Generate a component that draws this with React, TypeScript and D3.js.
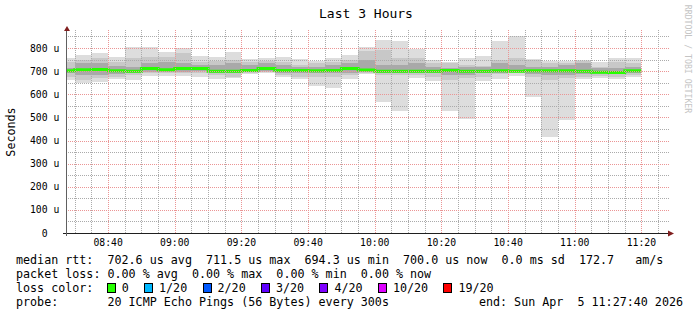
import React from 'react';
import * as d3 from 'd3';

const W = 697;
const H = 315;

const startTime = new Date(2026, 3, 5, 8, 27, 40);
const endTime = new Date(2026, 3, 5, 11, 27, 40);
const firstBarEnd = new Date(2026, 3, 5, 8, 30, 0);
const stepMinutes = 5;

// RTT values in microseconds, one per 5-minute step
const maxRtt = [755, 770, 780, 760, 803, 803, 781, 799, 765, 760, 783, 754, 758, 760, 752, 745, 755, 770, 806, 835, 830, 797, 748, 739, 757, 765, 830, 853, 752, 744, 744, 748, 738, 757, 757];
const hi2 = [741, 748, 755, 741, 755, 762, 762, 777, 741, 745, 748, 741, 745, 741, 726, 733, 741, 750, 789, 791, 755, 755, 733, 733, 726, 722, 748, 755, 748, 733, 733, 745, 719, 738, 733];
const hi3 = [712, 733, 736, 722, 719, 736, 741, 733, 726, 726, 733, 726, 733, 726, 719, 719, 726, 733, 748, 726, 726, 733, 719, 712, 719, 719, 733, 726, 719, 719, 726, 733, 712, 712, 719];
const medianRtt = [702, 706, 707, 702, 700, 711, 706, 711, 711, 700, 700, 703, 711, 703, 703, 702, 703, 711, 705, 699, 700, 700, 699, 703, 700, 700, 702, 700, 702, 702, 702, 700, 695, 694, 702];
const lo3 = [690, 683, 683, 688, 690, 697, 697, 697, 700, 690, 690, 698, 700, 690, 690, 690, 693, 690, 698, 690, 690, 693, 690, 683, 683, 690, 693, 697, 688, 683, 683, 688, 688, 686, 690];
const lo2 = [676, 662, 669, 676, 683, 690, 690, 690, 690, 683, 676, 693, 697, 683, 676, 676, 676, 683, 690, 683, 683, 683, 676, 662, 669, 676, 686, 690, 676, 662, 669, 676, 680, 676, 683];
const minRtt = [662, 647, 654, 664, 662, 680, 679, 679, 676, 664, 669, 686, 693, 676, 664, 636, 628, 664, 686, 568, 529, 672, 659, 529, 492, 659, 666, 680, 590, 416, 489, 664, 672, 666, 673];

const yMajorTicks = [0, 100, 200, 300, 400, 500, 600, 700, 800];
const yMinorTicks = [50, 150, 250, 350, 450, 550, 650, 750, 850];

const lossLabels = ['0', '1/20', '2/20', '3/20', '4/20', '10/20', '19/20'];
const lossColors = ['#26ff00', '#00b8ff', '#0059ff', '#5e00ff', '#7e00ff', '#dd00ff', '#ff0000'];

const title = 'Last 3 Hours';
const yTitle = 'Seconds';
const legendRtt = 'median rtt:  702.6 us avg  711.5 us max  694.3 us min  700.0 us now  0.0 ms sd  172.7   am/s';
const legendLoss = 'packet loss: 0.00 % avg  0.00 % max  0.00 % min  0.00 % now';
const legendColorLabel = 'loss color:';
const legendProbe = 'probe:       20 ICMP Echo Pings (56 Bytes) every 300s';
const legendEnd = 'end: Sun Apr  5 11:27:40 2026';
const watermark = 'RRDTOOL / TOBI OETIKER';

const MONO = '"DejaVu Sans Mono", monospace';

export default function App() {
  const x = d3.scaleTime().domain([startTime, endTime]).range([67, 667]);
  const y = d3.scaleLinear().domain([0, 880]).range([233, 29.5]);

  const barEnds = medianRtt.map((_, i) => d3.timeMinute.offset(firstBarEnd, stepMinutes * i));
  const barStarts = barEnds.map((e) => d3.timeMinute.offset(e, -stepMinutes));

  const gridTimes = d3
    .range(0, 40)
    .map((i) => d3.timeMinute.offset(firstBarEnd, stepMinutes * i))
    .filter((t) => t < endTime);
  const majorX = gridTimes.filter((t) => t.getMinutes() % 20 === 0);
  const minorX = gridTimes.filter((t) => t.getMinutes() % 20 !== 0);
  const fmt = d3.timeFormat('%H:%M');

  const bands: [number[], number[], string][] = [
    [minRtt, maxRtt, '#dddddd'],
    [lo2, hi2, '#c8c8c8'],
    [lo3, hi3, '#a9a9a9'],
  ];

  const medPts: [Date, number][] = medianRtt.map((m, i) => [barStarts[i], m]);
  medPts.push([barEnds[barEnds.length - 1], medianRtt[medianRtt.length - 1]]);
  const medLine = d3
    .line<[Date, number]>()
    .x((d) => x(d[0]))
    .y((d) => y(d[1]))
    .curve(d3.curveStepAfter);

  const px = (v: number) => Math.round(v);
  const plotL = 67;
  const plotR = 667;
  const plotT = 29.5;
  const plotB = 233;
  const gridTop = 30;

  const cw = 7.04;
  const legendX = 16;
  let cursor = legendX + 13 * cw - 0.8;
  const lossItems = lossLabels.map((lab, i) => {
    const bx = cursor;
    const tx = bx + 15;
    cursor = tx + lab.length * cw + 15.3;
    return { lab, color: lossColors[i], bx, tx };
  });

  const minorCol = '#ababab';
  const majorCol = '#eb9595';

  const vDots = (xx: number, col: string, k: string) => {
    const dots = d3.range(gridTop, plotB, 2);
    return (
      <g key={k} fill={col}>
        {dots.map((yy) => (
          <rect key={yy} x={xx} y={yy} width={1} height={1} />
        ))}
      </g>
    );
  };

  return (
    <svg width={W} height={H} viewBox={`0 0 ${W} ${H}`} style={{ display: 'block', background: '#ffffff' }}>
      <style>{`body{margin:0}`}</style>
      <defs>
        <clipPath id="plotClip">
          <rect x={plotL} y={plotT} width={plotR - plotL} height={plotB - plotT} />
        </clipPath>
        <pattern id="hMinorP" x={0} y={0} width={2} height={1} patternUnits="userSpaceOnUse">
          <rect x={0} y={0} width={1} height={1} fill={minorCol} />
        </pattern>
        <pattern id="hMajorP" x={0} y={0} width={2} height={1} patternUnits="userSpaceOnUse">
          <rect x={0} y={0} width={1} height={1} fill={majorCol} />
        </pattern>
      </defs>
      <rect x={0} y={0} width={W} height={H} fill="#ffffff" />

      {/* smoke */}
      <g clipPath="url(#plotClip)" shapeRendering="crispEdges">
        {bands.map(([lo, hi, col], b) => (
          <g key={b}>
            {lo.map((l, i) => (
              <rect
                key={i}
                x={x(barStarts[i])}
                width={x(barEnds[i]) - x(barStarts[i])}
                y={y(hi[i])}
                height={y(l) - y(hi[i])}
                fill={col}
              />
            ))}
          </g>
        ))}
      </g>
      <g clipPath="url(#plotClip)">
        <path d={medLine(medPts) || ''} fill="none" stroke="#26ff00" strokeWidth={3} />
      </g>

      {/* grid (dotted) */}
      <g shapeRendering="crispEdges">
        {yMinorTicks.map((v) => (
          <rect key={'ym' + v} x={plotL} y={px(y(v))} width={plotR + 2 - plotL} height={1} fill="url(#hMinorP)" />
        ))}
        {minorX.map((t, i) => vDots(px(x(t)), minorCol, 'vm' + i))}
        {yMajorTicks.filter((v) => v > 0).map((v) => (
          <rect key={'yM' + v} x={plotL} y={px(y(v))} width={plotR + 2 - plotL} height={1} fill="url(#hMajorP)" />
        ))}
        {majorX.map((t, i) => vDots(px(x(t)), majorCol, 'vM' + i))}
      </g>

      {/* axes */}
      <line x1={63} x2={669} y1={233.5} y2={233.5} stroke="#1f1f1f" strokeWidth={1} shapeRendering="crispEdges" />
      <line x1={66.5} x2={66.5} y1={28} y2={236} stroke="#606060" strokeWidth={1} shapeRendering="crispEdges" />
      <path d="M64,31L70,31L67,26Z" fill="#801f1f" />
      <path d="M668,230.5L668,236.5L674,233.5Z" fill="#801f1f" />

      {/* tick labels */}
      <g fontFamily={MONO} fontSize={9.75} fill="#000">
        {yMajorTicks.map((v) => (
          <text key={v} x={v === 0 ? 59.3 - 2 * 5.87 : 59.3} y={y(v) + 3.6} textAnchor="end">
            {v === 0 ? '0' : `${v} u`}
          </text>
        ))}
        {majorX.map((t) => (
          <text key={+t} x={x(t)} y={246} textAnchor="middle">
            {fmt(t)}
          </text>
        ))}
      </g>

      {/* titles */}
      <text x={366} y={18} textAnchor="middle" fontFamily={MONO} fontSize={13} fill="#000">
        {title}
      </text>
      <text transform={`translate(15,132) rotate(-90)`} textAnchor="middle" fontFamily={MONO} fontSize={11.7} fill="#000">
        {yTitle}
      </text>
      <text transform={`translate(685,59) rotate(90)`} textAnchor="middle" fontFamily={MONO} fontSize={8.2} fill="#c4c4c4">
        {watermark}
      </text>

      {/* legend */}
      <g fontFamily={MONO} fontSize={11.7} fill="#000">
        <text x={legendX} y={264} xmlSpace="preserve" style={{ whiteSpace: 'pre' }}>
          {legendRtt}
        </text>
        <text x={legendX} y={278} xmlSpace="preserve" style={{ whiteSpace: 'pre' }}>
          {legendLoss}
        </text>
        <text x={legendX} y={292} xmlSpace="preserve" style={{ whiteSpace: 'pre' }}>
          {legendColorLabel}
        </text>
        {lossItems.map((it) => (
          <g key={it.lab}>
            <rect x={Math.round(it.bx) + 0.5} y={283.5} width={8} height={9} fill={it.color} stroke="#000" strokeWidth={1} shapeRendering="crispEdges" />
            <text x={it.tx} y={292}>
              {it.lab}
            </text>
          </g>
        ))}
        <text x={legendX} y={306} xmlSpace="preserve" style={{ whiteSpace: 'pre' }}>
          {legendProbe}
        </text>
        <text x={683} y={306} textAnchor="end" xmlSpace="preserve" style={{ whiteSpace: 'pre' }}>
          {legendEnd}
        </text>
      </g>
    </svg>
  );
}
